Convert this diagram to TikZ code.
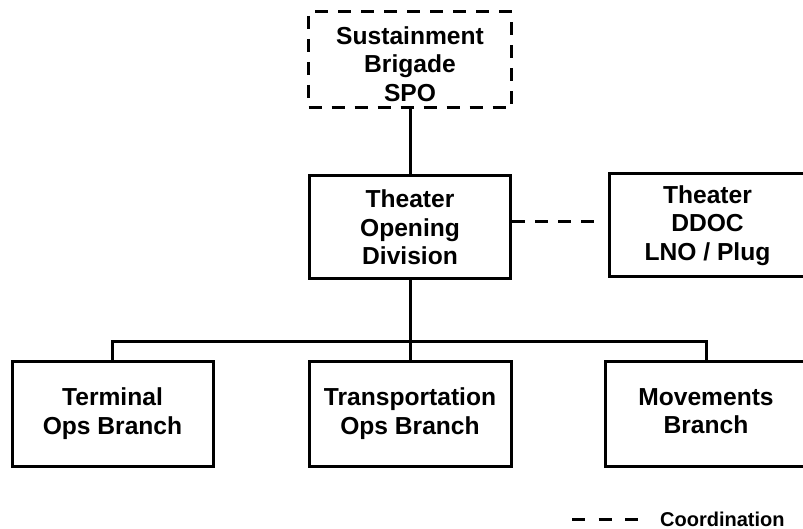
\documentclass[tikz,border=0pt]{standalone}
\usepackage{fontspec}
\setmainfont{Liberation Sans}
\newcommand{\topstrut}{\rule{0pt}{26pt}}
\newcommand{\descstrut}{\rule[-5pt]{0pt}{5pt}}
\begin{document}
\begin{tikzpicture}[x=1pt,y=-1pt,
  unitbox/.style={draw=black, line width=3pt, fill=white, align=center,
    inner sep=0pt, minimum height=104pt,
    font=\bfseries\fontsize{24.6}{28.5}\selectfont},
  coordbox/.style={unitbox, dash pattern=on 13pt off 10pt},
  link/.style={draw=black, line width=3pt, line join=miter},
  coordlink/.style={draw=black, line width=3pt, dash pattern=on 13pt off 10pt},
  keylink/.style={draw=black, line width=3pt, dash pattern=on 13pt off 13.5pt}]
  \useasboundingbox[fill=white] (0,0) rectangle (803,529);

  % headquarters and coordination elements
  \node[coordbox, minimum width=203pt, minimum height=96pt] (spo) at (410,60)
    {\topstrut Sustainment\\Brigade\\SPO};
  \node[unitbox, minimum width=201pt, minimum height=103pt] (tod) at (410,227.5)
    {Theater\\Opening\\Division};
  \node[unitbox, minimum width=197pt, minimum height=103pt] (ddoc) at (707.5,225.5)
    {Theater\\DDOC\\LNO / Plug};

  % branches
  \node[unitbox, minimum width=201pt, minimum height=105pt] (term) at (112.5,413.5)
    {Terminal\\Ops Branch\descstrut};
  \node[unitbox, minimum width=202pt, minimum height=105pt] (trans) at (410,413.5)
    {Transportation\\Ops Branch\descstrut};
  \node[unitbox, minimum width=202pt, minimum height=105pt] (move) at (706,413.5)
    {Movements\\Branch\descstrut};

  % command lines
  \coordinate (bus) at (410,341);
  \draw[link] (spo.south) -- (tod.north);
  \draw[link] (tod.south) -- (trans.north);
  \draw[link] (term.north) |- (bus) -| (move.north);

  % coordination line
  \coordinate (ddocend) at (597,222);
  \draw[coordlink] (tod.east |- ddocend) -- (ddocend);

  % legend
  \coordinate (keyA) at (572,519);
  \coordinate (keyB) at (638,519);
  \draw[keylink] (keyA) -- (keyB);
  \node[anchor=west, inner sep=0pt, font=\bfseries\fontsize{20}{24}\selectfont]
    (keytext) at (660,519) {Coordination};
\end{tikzpicture}
\end{document}
